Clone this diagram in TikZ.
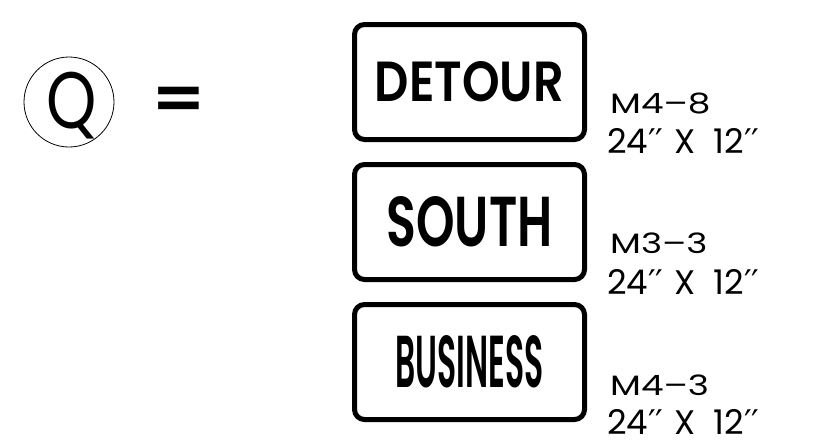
\documentclass[tikz,border=0pt]{standalone}
\usepackage{fontspec}
\setmainfont{Poppins}
\newfontfamily\signfont{Poppins SemiBold}
\newfontfamily\primefont{DejaVu Sans}
\usetikzlibrary{positioning}

\begin{document}
\begin{tikzpicture}[
    x=1pt, y=-1pt,
    node distance=20pt, % gap between the signs
    sign/.style={rectangle, draw, line width=5pt, rounded corners=10pt, minimum width=230pt, minimum height=115pt, inner sep=0pt, font=\signfont},
    code/.style={anchor=base west, inner sep=0pt, font=\fontsize{28}{28}\selectfont},
    size/.style={anchor=base west, inner sep=0pt, font=\fontsize{34}{34}\selectfont}
]
    \useasboundingbox (0,0) rectangle (815,445);

    % Circled letter and equals sign
    \node[circle, draw, line width=0.8pt, minimum size=90pt, inner sep=0pt] (qmark) at (69,102) {};
    \node[inner sep=0pt] (qletter) at (72,106) {\scalebox{0.8}[1]{\fontsize{80}{80}\selectfont Q}};
    \node[inner sep=0pt, font=\signfont] (equals) at (178.5,104) {\scalebox{1.2}[1]{\fontsize{62}{62}\selectfont =}};

    % Signs, stacked
    \node[sign] (detour) at (469.5,82) {\resizebox{189pt}{40pt}{DETOUR}};
    \node[sign, below=of detour] (south) {\resizebox{166pt}{50pt}{SOUTH}};
    \node[sign, below=of south] (business) {\resizebox{148pt}{52pt}{BUSINESS}};

    % Sign codes and sizes
    \node[code] (detourcode) at (610,113) {\scalebox{1.28}[1]{M4–8}};
    \node[size] (detoursize) at (607,153) {24{\primefont ′′}\hspace{11pt}X\hspace{18pt}12{\primefont ′′}};
    \node[code] (southcode) at (610,253) {\scalebox{1.28}[1]{M3–3}};
    \node[size] (southsize) at (607,294) {24{\primefont ′′}\hspace{11pt}X\hspace{18pt}12{\primefont ′′}};
    \node[code] (businesscode) at (610,395) {\scalebox{1.28}[1]{M4–3}};
    \node[size] (businesssize) at (607,434) {24{\primefont ′′}\hspace{11pt}X\hspace{18pt}12{\primefont ′′}};
\end{tikzpicture}
\end{document}
